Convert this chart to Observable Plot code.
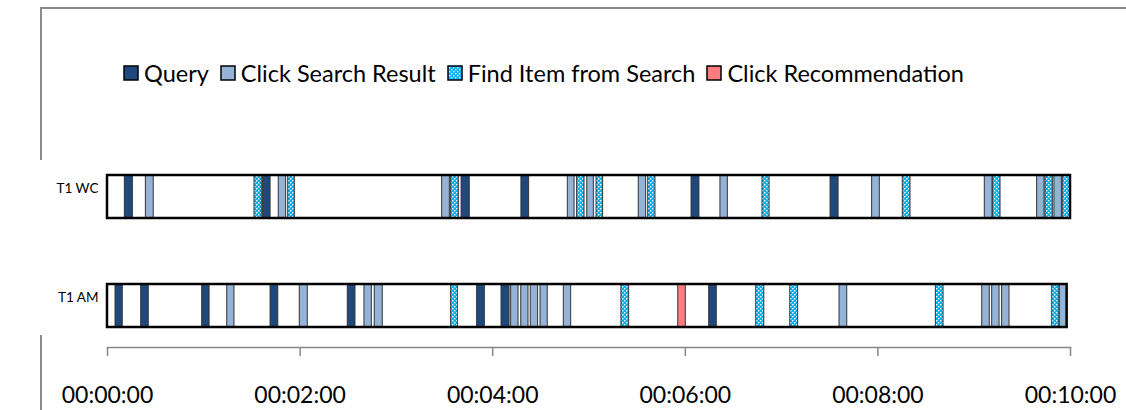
<!DOCTYPE html>
<html><head><meta charset="utf-8">
<script src="https://cdn.jsdelivr.net/npm/d3@7"></script>
<script src="https://cdn.jsdelivr.net/npm/@observablehq/plot@0.6"></script>
<style>
body{margin:0;background:#fff;font-family:Lato,"Open Sans",sans-serif;}
#wrap{position:relative;width:1126px;height:410px;overflow:hidden;background:#fff;}
#wrap svg.plot{position:absolute;left:0;top:0;}
.bline{position:absolute;background:#8a8a8a;}
#legend{position:absolute;left:123px;top:59px;display:flex;align-items:center;font-size:23.5px;color:#000;white-space:nowrap;}
#legend .item{display:flex;align-items:center;margin-right:11px;}
#legend svg{margin-right:5px;display:block;}
</style></head><body><div id="wrap">
<div class="bline" style="left:40px;top:7px;width:1.5px;height:153px"></div>
<div class="bline" style="left:40px;top:335px;width:1.5px;height:75px"></div>
<div class="bline" style="left:40px;top:7px;width:1086px;height:1.5px"></div>
<div id="legend"></div>
</div>
<script>
const rows = ["T1 WC", "T1 AM"];
const typeNames = ["Query", "Click Search Result", "Find Item from Search", "Click Recommendation"];
const typeCodes = ["Q", "C", "F", "R"];
const typeColors = ["#1F497D", "#95B3D7", "url(#chk)", "#FF7C80"];
const sessionEnd = [600, 597.9];

const wcType  = ["Q","C","F","Q","C","F","C","F","Q","Q","C","F","C","F","C","F","Q","C","F","Q","C","F","C","F","C","F","C","F"];
const wcStart = [10.8,23.9,91.6,96.8,106.7,112.6,208.5,214.1,220.6,257.9,286.8,292.6,298.9,304.7,331.0,336.9,363.9,381.9,408.1,450.5,476.4,495.5,546.6,551.8,579.2,584.4,590.0,595.2];
const wcEnd   = [15.8,28.8,96.1,101.6,111.3,116.7,213.3,218.9,225.7,262.7,291.0,297.2,303.0,308.8,335.6,341.4,368.8,386.5,412.5,455.5,481.2,500.3,551.4,556.4,583.8,589.0,594.6,600.0];

const amType  = ["Q","Q","Q","C","Q","C","Q","C","C","F","Q","Q","C","C","C","C","C","F","R","Q","F","F","C","F","C","C","C","F","C"];
const amStart = [5.0,21.0,59.0,74.6,101.6,119.8,149.7,160.1,166.5,214.1,230.3,245.5,251.5,257.8,263.7,269.8,284.3,320.2,355.6,374.9,404.2,425.4,456.1,516.1,545.0,551.2,557.4,588.6,593.3];
const amEnd   = [9.5,25.7,63.6,79.1,106.4,124.8,154.5,164.7,171.5,218.3,235.1,250.5,256.1,262.3,268.3,274.3,288.9,325.0,360.3,379.6,409.2,430.3,460.9,520.9,549.7,555.8,562.0,593.1,597.9];

const tickSeconds = [0, 120, 240, 360, 480, 600];
const tickLabels = ["00:00:00", "00:02:00", "00:04:00", "00:06:00", "00:08:00", "00:10:00"];

const nameOf = c => typeNames[typeCodes.indexOf(c)];
const sessions = rows.map((r, i) => ({row: r, start: 0, end: sessionEnd[i]}));
const events = [
  ...wcType.map((t, i) => ({row: rows[0], type: nameOf(t), start: wcStart[i], end: wcEnd[i]})),
  ...amType.map((t, i) => ({row: rows[1], type: nameOf(t), start: amStart[i], end: amEnd[i]}))
];

const chart = Plot.plot({
  width: 1126, height: 410,
  marginLeft: 107, marginRight: 56, marginTop: 174.5, marginBottom: 63,
  style: {fontFamily: "Lato, 'Open Sans', sans-serif", background: "transparent", overflow: "visible"},
  x: {domain: [0, 600]},
  y: {domain: rows, range: [174.5, 327.5], paddingInner: 0.609, paddingOuter: 0},
  color: {domain: typeNames, range: typeColors},
  marks: [
    Plot.rectX(sessions, {x1: "start", x2: "end", y: "row", fill: "white"}),
    Plot.rectX(events, {x1: "start", x2: "end", y: "row", fill: "type", stroke: "#333", strokeWidth: 1}),
    Plot.rectX(sessions, {x1: "start", x2: "end", y: "row", fill: "none", stroke: "black", strokeWidth: 2.5}),
    Plot.frame({anchor: "bottom", stroke: "#868686", strokeWidth: 1.5}),
    Plot.axisY({tickSize: 0, tickPadding: 9, dy: -8, fontSize: 13.5, label: null, fill: "#000"}),
    Plot.axisX({ticks: tickSeconds, tickFormat: (d, i) => tickLabels[tickSeconds.indexOf(d)], tickSize: 9, tickPadding: 30, fontSize: 23, label: null, stroke: "#868686", strokeWidth: 1.5, fill: "#000"})
  ]
});

const defs = d3.select(chart).insert("defs", ":first-child");
const pat = defs.append("pattern").attr("id", "chk").attr("width", 4).attr("height", 4).attr("patternUnits", "userSpaceOnUse");
pat.append("rect").attr("width", 4).attr("height", 4).attr("fill", "#00B0F0");
pat.append("rect").attr("width", 1.4).attr("height", 1.4).attr("fill", "white");
pat.append("rect").attr("x", 2).attr("y", 2).attr("width", 1.4).attr("height", 1.4).attr("fill", "white");

const wrap = document.getElementById("wrap");
wrap.insertBefore(chart, wrap.firstChild);

const legend = d3.select("#legend");
typeNames.forEach((n, i) => {
  const it = legend.append("div").attr("class", "item");
  const s = it.append("svg").attr("width", 16).attr("height", 16);
  s.append("rect").attr("x", 1).attr("y", 1).attr("width", 14).attr("height", 14)
    .attr("fill", typeColors[i]).attr("stroke", "#000").attr("stroke-width", 1.5);
  it.append("span").text(n);
});
</script></body></html>
